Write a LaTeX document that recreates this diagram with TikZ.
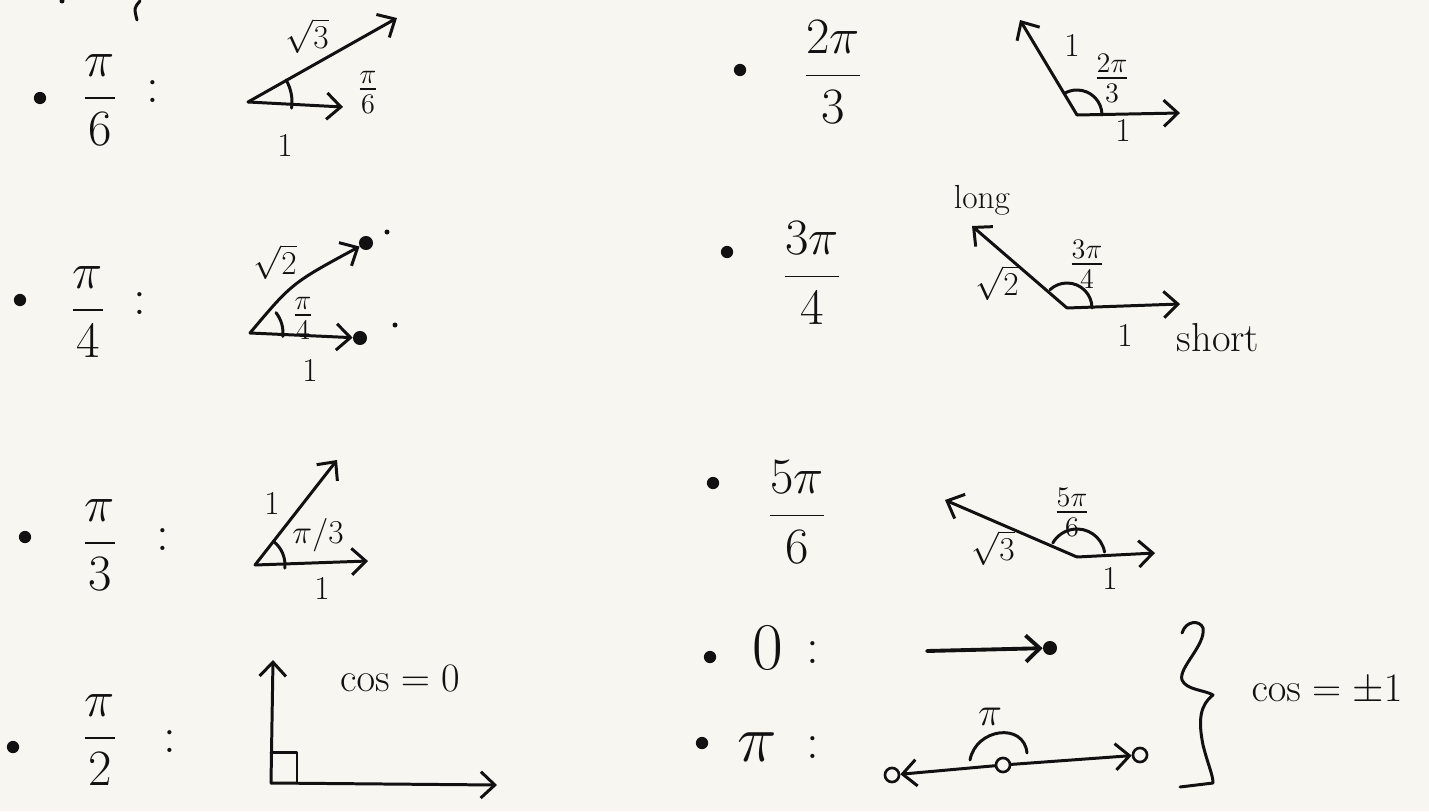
\RequirePackage{fix-cm}
\documentclass[tikz,border=0pt]{standalone}
\usepackage{amsmath}
\usetikzlibrary{arrows.meta}
\definecolor{paper}{RGB}{248,246,241}
\definecolor{ink}{RGB}{17,17,17}
\tikzset{
  pen/.style={ink, line width=1.7pt, line cap=round, line join=round},
  vec/.style={pen, -{Straight Barb[length=8pt,width=15pt]}},
  bul/.style={circle, fill=ink, inner sep=0pt, minimum size=7pt},
  blob/.style={circle, fill=ink, inner sep=0pt, minimum size=8pt},
  ring/.style={circle, draw=ink, line width=1.5pt, inner sep=0pt, minimum size=8pt},
  big/.style={ink, inner sep=0pt, font=\fontsize{29}{32}\selectfont},
  huge/.style={ink, inner sep=0pt, font=\fontsize{38}{40}\selectfont},
  lbl/.style={ink, inner sep=0pt, font=\fontsize{19}{21}\selectfont},
  ang/.style={ink, inner sep=0pt, font=\fontsize{23}{25}\selectfont},
  note/.style={ink, inner sep=0pt, font=\fontsize{23}{25}\selectfont},
}
\begin{document}
\begin{tikzpicture}[x=0.02cm, y=-0.02cm]
\useasboundingbox (0,0) rectangle (1429,811);
\fill[paper] (0,0) rectangle (1429,811);
\draw[pen] (140,1) .. controls (134,8) .. (137,20);
\fill[ink] (62,1) circle (2.5);
% pi/6
\node[bul] (bu1) at (40,98){};
\node[big] (f1) at (100,100){$\displaystyle\frac{\pi}{6}$};
\node[big] (c1) at (153,92){:};
\coordinate (o1) at (248,102);
\coordinate (a1) at (343,107);
\coordinate (b1) at (397,18);
\draw[vec] (o1) -- (a1);
\draw[vec] (o1) -- (b1);
\draw[pen] (o1) ++(8:44) arc[start angle=8, end angle=-30, radius=44];
\node[lbl] (l1a) at (307,36){$\sqrt{3}$};
\node[ang] (l1b) at (368,92){$\frac{\pi}{6}$};
\node[lbl] (l1c) at (285,145){1};
% pi/4
\node[bul] (bu2) at (20,300){};
\node[big] (f2) at (88,312){$\displaystyle\frac{\pi}{4}$};
\node[big] (c2) at (140,304){:};
\coordinate (o2) at (250,333);
\node[blob] (a2) at (360,338){};
\node[blob] (b2) at (366,243){};
\draw[vec] (o2) -- (a2);
\draw[vec] (o2) .. controls (292,283) .. (b2);
\draw[pen] (o2) ++(6:33) arc[start angle=6, end angle=-38, radius=33];
\fill[ink] (387,232) circle (2.5);
\fill[ink] (395,325) circle (2.5);
\node[lbl] (l2a) at (275,262){$\sqrt{2}$};
\node[ang] (l2b) at (303,318){$\frac{\pi}{4}$};
\node[lbl] (l2c) at (310,370){1};
% pi/3
\node[bul] (bu3) at (25,537){};
\node[big] (f3) at (100,545){$\displaystyle\frac{\pi}{3}$};
\node[big] (c3) at (163,540){:};
\coordinate (o3) at (255,565);
\coordinate (a3) at (368,561);
\coordinate (b3) at (337,460);
\draw[vec] (o3) -- (a3);
\draw[vec] (o3) -- (b3);
\draw[pen] (o3) ++(6:30) arc[start angle=6, end angle=-52, radius=30];
\node[lbl] (l3a) at (272,503){1};
\node[lbl] (l3b) at (318,535){$\pi/3$};
\node[lbl] (l3c) at (322,588){1};
% pi/2
\node[bul] (bu4) at (13,747){};
\node[big] (f4) at (100,740){$\displaystyle\frac{\pi}{2}$};
\node[big] (c4) at (170,742){:};
\coordinate (o4) at (271,783);
\coordinate (a4) at (497,785);
\coordinate (b4) at (273,660);
\draw[vec] (o4) -- (a4);
\draw[vec] (o4) -- (b4);
\draw[pen] (271,752) -- (297,752) -- (297,783);
\node[note] (l4) at (400,678){$\cos=0$};
% 2pi/3
\node[bul] (bu5) at (740,70){};
\node[big] (f5) at (833,72){$\displaystyle\frac{2\pi}{3}$};
\coordinate (o5) at (1077,115);
\coordinate (a5) at (1180,113);
\coordinate (b5) at (1020,20);
\draw[vec] (o5) -- (a5);
\draw[vec] (o5) -- (b5);
\draw[pen] (o5) ++(0:25) arc[start angle=0, end angle=-121, radius=25];
\node[lbl] (l5a) at (1072,45){1};
\node[ang] (l5b) at (1112,78){$\frac{2\pi}{3}$};
\node[lbl] (l5c) at (1123,130){1};
% 3pi/4
\node[bul] (bu6) at (727,252){};
\node[big] (f6) at (812,273){$\displaystyle\frac{3\pi}{4}$};
\coordinate (o6) at (1067,308);
\coordinate (a6) at (1180,304);
\coordinate (b6) at (972,226);
\draw[vec] (o6) -- (a6);
\draw[vec] (o6) -- (b6);
\draw[pen] (o6) ++(0:25) arc[start angle=0, end angle=-133, radius=25];
\node[lbl] (l6a) at (982,200){long};
\node[lbl] (l6b) at (997,283){$\sqrt{2}$};
\node[ang] (l6c) at (1087,264){$\frac{3\pi}{4}$};
\node[lbl] (l6d) at (1125,335){1};
\node[note] (l6e) at (1218,338){short};
% 5pi/6
\node[bul] (bu7) at (713,483){};
\node[big] (f7) at (797,512){$\displaystyle\frac{5\pi}{6}$};
\coordinate (o7) at (1077,557);
\coordinate (a7) at (1155,553);
\coordinate (b7) at (945,500);
\draw[vec] (o7) -- (a7);
\draw[vec] (o7) -- (b7);
\draw[pen] (o7) ++(-10:28) arc[start angle=-10, end angle=-150, radius=28];
\node[ang] (l7a) at (1072,512){$\frac{5\pi}{6}$};
\node[lbl] (l7b) at (993,548){$\sqrt{3}$};
\node[lbl] (l7c) at (1110,578){1};
% 0
\node[bul] (bu8) at (710,657){};
\node[huge] (f8) at (768,648){$0$};
\node[big] (c8) at (813,653){:};
\coordinate (s0) at (927,651);
\node[blob] (e0) at (1050,648){};
\draw[vec, line width=2.2pt] (s0) -- (e0);
% pi
\node[bul] (bu9) at (702,743){};
\node[huge] (f9) at (757,747){$\pi$};
\node[big] (c9) at (813,748){:};
\node[ring] (pl) at (892,775){};
\node[ring] (pc) at (1003,765){};
\node[ring] (pr) at (1140,755){};
\draw[vec] (pc) -- (pl);
\draw[vec] (pc) -- (pr);
\draw[pen] (970,760) .. controls (976,728) and (1024,722) .. (1027,753);
\node[note] (l9) at (990,717){$\pi$};
% brace
\draw[pen] (1182,633) .. controls (1186,620) and (1200,620) .. (1203,628)
  .. controls (1206,645) and (1178,668) .. (1182,680)
  .. controls (1186,690) and (1205,690) .. (1213,695)
  .. controls (1200,705) and (1198,720) .. (1203,745)
  .. controls (1208,765) and (1213,775) .. (1213,783) -- (1180,787);
\node[note] (l10) at (1327,690){$\cos=\pm1$};
\end{tikzpicture}
\end{document}
